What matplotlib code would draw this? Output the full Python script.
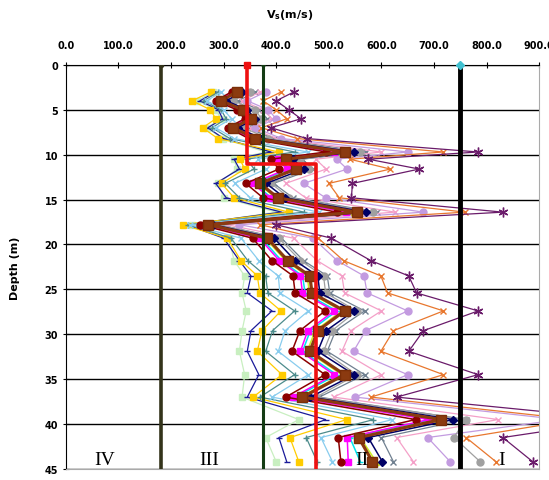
import matplotlib
matplotlib.use("Agg")
import matplotlib.pyplot as plt

depth = [3.0, 4.0, 5.0, 6.0, 7.0, 8.2, 9.7, 10.5, 11.6, 13.2, 14.8, 16.4, 17.8,
         19.3, 21.8, 23.5, 25.4, 27.4, 29.6, 31.9, 34.5, 37.0, 39.5, 41.5, 44.2]

purple = [434, 400, 424, 447, 390, 458, 784, 575, 672, 545, 543, 831, 400, 505, 580, 652, 667, 784, 680, 652, 784, 629, 1060, 831, 888]
orange = [410, 375, 400, 420, 372, 440, 718, 540, 617, 500, 520, 759, 370, 480, 528, 599, 612, 718, 623, 599, 718, 580, 970, 761, 818]
grey = [350, 318, 360, 372, 338, 385, 560, 445, 462, 390, 425, 585, 290, 405, 446, 490, 494, 553, 506, 490, 553, 476, 760, 738, 788]
lavender = [380, 345, 385, 400, 360, 410, 650, 515, 535, 452, 494, 680, 330, 470, 516, 567, 573, 650, 570, 547, 650, 550, 940, 688, 731]
pink = [370, 335, 375, 392, 352, 400, 600, 475, 495, 418, 456, 626, 306, 433, 478, 525, 530, 600, 542, 525, 600, 509, 822, 629, 661]
slate = [360, 328, 368, 383, 345, 395, 570, 450, 470, 395, 432, 592, 290, 410, 452, 497, 502, 568, 513, 497, 568, 482, 760, 600, 623]
navy_d = [335, 305, 345, 360, 327, 372, 548, 432, 452, 381, 416, 571, 280, 396, 436, 479, 483, 548, 495, 479, 548, 465, 737, 575, 602]
brown = [325, 295, 337, 352, 318, 360, 530, 419, 437, 369, 403, 553, 271, 383, 422, 464, 468, 530, 479, 464, 530, 450, 714, 557, 583]
darkred = [315, 285, 325, 340, 308, 348, 495, 390, 405, 342, 375, 515, 255, 355, 392, 432, 436, 493, 445, 430, 493, 418, 665, 518, 523]
magenta = [318, 290, 328, 345, 312, 352, 510, 403, 420, 355, 388, 532, 262, 368, 406, 446, 450, 510, 460, 446, 510, 432, 690, 535, 537]
cyan = [320, 292, 330, 348, 315, 355, 515, 407, 424, 358, 391, 537, 264, 372, 410, 450, 455, 515, 465, 450, 515, 437, 695, 540, 560]
lime = [322, 293, 333, 350, 316, 357, 525, 415, 433, 365, 399, 547, 268, 379, 418, 459, 463, 525, 474, 459, 525, 446, 705, 560, 590]
lightblue = [295, 268, 300, 315, 285, 320, 460, 365, 380, 321, 351, 481, 236, 333, 367, 404, 407, 461, 417, 404, 461, 392, 621, 485, 507]
teal = [290, 262, 295, 305, 278, 312, 435, 344, 358, 303, 330, 453, 232, 314, 346, 380, 384, 435, 393, 380, 435, 369, 585, 457, 478]
gold = [276, 240, 275, 285, 260, 289, 405, 331, 340, 296, 320, 424, 222, 307, 333, 364, 369, 409, 373, 364, 411, 356, 534, 426, 443]
navy_line = [285, 255, 290, 298, 270, 300, 390, 320, 330, 285, 305, 410, 230, 300, 330, 352, 345, 392, 352, 345, 367, 345, 494, 405, 420]
lightgreen = [280, 250, 285, 295, 268, 298, 380, 320, 325, 290, 300, 400, 240, 310, 320, 340, 335, 343, 335, 330, 340, 335, 443, 380, 400]

# reference lines
class_bounds = [180, 375, 750]
red_vs = [345, 345, 475, 475]
red_depth = [0, 11.0, 11.0, 45]
zone_labels = ["IV", "III", "II", "I"]
zone_x = [74, 272, 562, 828]

x_ticks = [0, 100, 200, 300, 400, 500, 600, 700, 800, 900]
y_ticks = [0, 5, 10, 15, 20, 25, 30, 35, 40, 45]

fig = plt.figure(figsize=(5.49, 4.81), dpi=100)
ax = fig.add_axes([0.120, 0.023, 0.862, 0.840])

AST = (6, 2, 0)
series = [
    (lightgreen, "#c8efc0", "s", 4, 0.9),
    (navy_line, "#1a1a99", "_", 4, 0.9),
    (gold, "#ffcc00", "s", 5, 0.9),
    (teal, "#4d8c8c", "+", 5, 0.9),
    (lightblue, "#88ccee", "x", 5, 0.9),
    (slate, "#708090", "x", 5, 0.9),
    (pink, "#f4a0c8", "x", 5, 0.9),
    (lavender, "#c39be0", "o", 5, 0.9),
    (grey, "#a0a0a0", "o", 5, 0.9),
    (orange, "#e8772e", "x", 5, 0.9),
    (purple, "#6a1b6a", AST, 7, 0.9),
    (lime, "#ccee22", "^", 5, 1.1),
    (cyan, "#00e5ee", "_", 5, 1.1),
    (magenta, "#ff00ff", "s", 4, 1.1),
    (darkred, "#8b0000", "o", 5, 1.1),
    (navy_d, "#000066", "D", 4, 1.1),
]
for vals, col, mk, ms, lw in series:
    ax.plot(vals, depth, color=col, marker=mk, markersize=ms, lw=lw,
            markeredgecolor=col, zorder=3)

ax.plot(brown, depth, color="#8b3a10", marker="s", markersize=7, lw=2.3,
        markeredgecolor="#7a2e08", zorder=4)

# classification boundaries
ax.plot([class_bounds[0]] * 2, [0, 45], color="#33331a", lw=2.6, zorder=5,
        marker="o", markersize=3, markevery=[0])
ax.plot([class_bounds[1]] * 2, [0, 45], color="#143c14", lw=2.2, zorder=5,
        marker="v", markersize=5, markevery=[0])
ax.plot([class_bounds[2]] * 2, [0, 45], color="black", lw=3.5, zorder=5)
ax.plot([class_bounds[2]], [0], marker="D", color="#40c0d0", markersize=4,
        zorder=6, clip_on=False)
ax.plot(red_vs, red_depth, color="#ee1111", lw=2.6, zorder=6)
ax.plot([red_vs[0]], [0], marker="s", color="#ee1111", markersize=4,
        zorder=7, clip_on=False)

for lab, xx in zip(zone_labels, zone_x):
    ax.text(xx, 43.9, lab, ha="center", va="center", fontsize=14,
            family="Liberation Serif", zorder=8)

ax.set_xlim(0, 900)
ax.set_ylim(45, 0)
ax.xaxis.tick_top()
ax.set_xticks(x_ticks)
ax.set_xticklabels([f"{v:.1f}" for v in x_ticks], fontsize=7, fontweight="bold")
ax.set_yticks(y_ticks)
ax.set_yticklabels([str(v) for v in y_ticks], fontsize=7, fontweight="bold")
ax.tick_params(axis="x", direction="inout", length=5, pad=8)
ax.tick_params(axis="y", direction="inout", length=5, pad=3)
ax.yaxis.grid(True, color="black", lw=1.0)
ax.set_axisbelow(True)
for s in ["left", "top"]:
    ax.spines[s].set_color("black")
for s in ["right", "bottom"]:
    ax.spines[s].set_color("#aaaaaa")

ax.set_ylabel("Depth (m)", fontsize=8, fontweight="bold", labelpad=18)
fig.text(290 / 549, 1 - 15 / 481, r"V$_\mathbf{s}$(m/s)", ha="center",
         va="center", fontsize=8, fontweight="bold")

fig.savefig("out.png", dpi=100)
